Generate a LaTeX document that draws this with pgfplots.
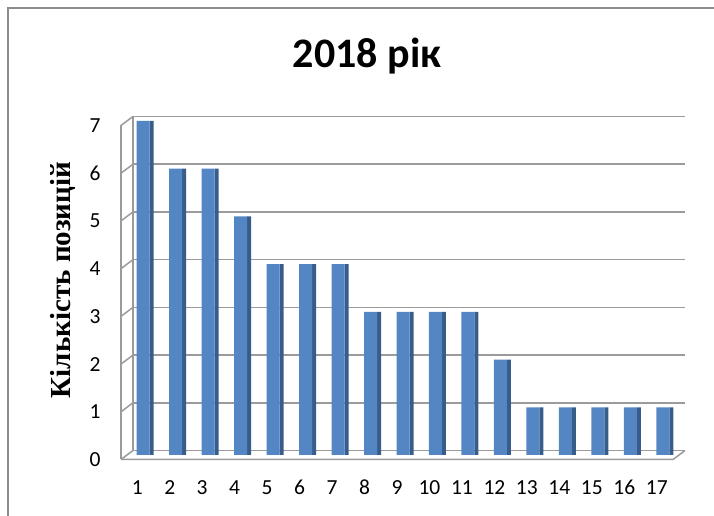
\documentclass[border=0pt]{standalone}
\usepackage{pgfplots}
\pgfplotsset{compat=1.18}
\usepackage{fontspec}
\setmainfont{Carlito}
\newfontfamily\timesfont{Liberation Serif}
\definecolor{barfront}{RGB}{84,134,196}
\definecolor{barside}{RGB}{56,93,138}
\definecolor{gridc}{RGB}{155,155,155}
\definecolor{framec}{RGB}{140,140,140}
\pgfplotstableread{
x y
1 7
2 6
3 6
4 5
5 4
6 4
7 4
8 3
9 3
10 3
11 3
12 2
13 1
14 1
15 1
16 1
17 1
}\datatable
\begin{document}
\begin{tikzpicture}[x=1pt,y=1pt]
\useasboundingbox (0,0) rectangle (714,516);
\draw[framec, line width=2pt] (8,-2) -- (8,508) -- (716,508);
\node[font=\fontsize{42}{48}\selectfont\bfseries] at (367,460) {2018 рік};
\node[rotate=90, font=\fontsize{29}{34}\selectfont\timesfont\bfseries] at (63,236) {Кількість позицій};
\begin{axis}[
  at={(127pt,61pt)}, anchor=south west,
  scale only axis, width=552pt, height=334pt,
  xmin=0.5, xmax=17.5, ymin=0, ymax=7,
  axis line style={draw=none},
  major tick style={draw=none},
  xtick={1,...,17}, ytick={0,...,7},
  ymajorgrids,
  major grid style={gridc, line width=1.5pt, shift={(6pt,4.5pt)}},
  /pgf/number format/assume math mode=true,
  tick label style={font=\fontsize{21.5}{24}\selectfont, black},
  yticklabel style={xshift=-23pt, yshift=-4.5pt},
  xticklabel style={xshift=-6pt, yshift=-22pt, text height=14pt, text depth=0pt},
  clip=false,
]
\pgfplotsinvokeforeach{0,...,7}{
  \draw[gridc, line width=1.5pt] ([shift={(-6pt,-4.5pt)}]axis cs:0.5,#1) -- ([shift={(6pt,4.5pt)}]axis cs:0.5,#1);
}
\draw[gridc, line width=1.5pt] ([shift={(-6pt,-4.5pt)}]axis cs:0.5,0) -- ([shift={(-6pt,-4.5pt)}]axis cs:0.5,7);
\draw[gridc, line width=1.5pt] ([shift={(6pt,4.5pt)}]axis cs:0.5,0) -- ([shift={(6pt,4.5pt)}]axis cs:0.5,7);
\draw[gridc, line width=1.5pt] ([shift={(-6pt,-4.5pt)}]axis cs:0.5,0) -- ([shift={(-6pt,-4.5pt)}]axis cs:17.5,0) -- ([shift={(6pt,4.5pt)}]axis cs:17.5,0);
\addplot[ybar, bar width=4pt, bar shift=8.5pt, fill=barside, draw=none] table[x=x,y=y] {\datatable};
\addplot[ybar, bar width=13pt, bar shift=0pt, fill=barfront, draw=none] table[x=x,y=y] {\datatable};
\end{axis}
\end{tikzpicture}
\end{document}
